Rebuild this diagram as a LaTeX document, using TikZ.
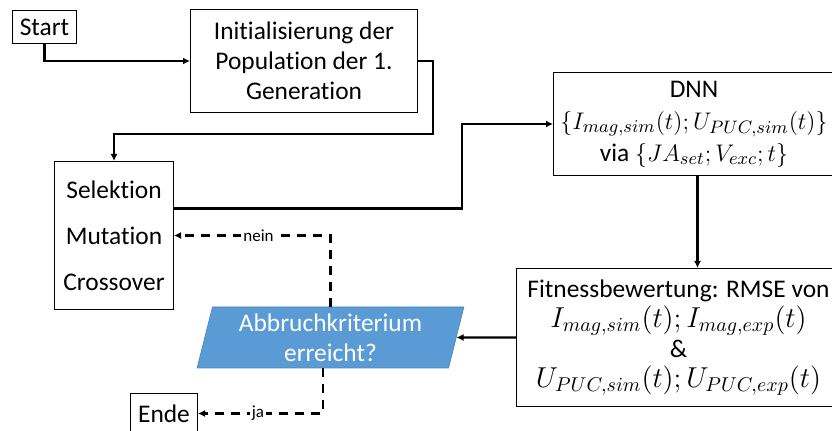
\documentclass[tikz,border=0pt]{standalone}
\usepackage{fontspec}
\setmainfont{Carlito}[Ligatures=NoCommon]
\usetikzlibrary{arrows.meta,positioning,shapes.geometric}
\definecolor{abbrblue}{HTML}{5B9BD5}
\newcommand{\mth}[2][13.8]{{\fontsize{#1}{16}\selectfont$#2$}}

\begin{document}
\begin{tikzpicture}[
    x=0.5pt, y=-0.5pt,
    box/.style={draw, line width=0.5pt, align=center, inner sep=0pt, anchor=north west, font=\fontsize{12.7}{15}\selectfont},
    query/.style={trapezium, trapezium left angle=76, trapezium right angle=104, trapezium stretches=true,
        minimum width=133.5pt, minimum height=30.5pt, inner sep=0pt, fill=abbrblue, draw=abbrblue!85!black,
        line width=0.3pt, text=white, align=center, font=\fontsize{12.7}{15}\selectfont},
    link/.style={-{Latex[length=3.5pt,width=3.5pt]}, line width=1.2pt},
    back/.style={link, dash pattern=on 4.5pt off 3.5pt},
    lbl/.style={fill=white, inner sep=1pt, font=\fontsize{8.5}{9}\selectfont}
]
\useasboundingbox (0,0) rectangle (832,431);
\node[box, minimum width=32pt, minimum height=16.5pt] (start) at (12,10) {Start};
\node[box, minimum width=113.5pt, minimum height=51.5pt] (init) at (190,9) {Initialisierung der\\Population der 1.\\Generation};
\node[box, minimum width=59.5pt, minimum height=74pt] (sel) at (54,161) {Selektion\\[8pt]Mutation\\[8pt]Crossover};
\node[box, minimum width=140.5pt, minimum height=51.5pt] (dnn) at (553,72)
    {DNN\\[1pt]\mth[12.6]{\{I_{mag,sim}(t);U_{PUC,sim}(t)\}}\\[1pt]via \mth[12.6]{\{JA_{set};V_{exc};t\}}};
\node[box, minimum width=162pt, minimum height=69pt] (fit) at (516,268)
    {Fitnessbewertung: RMSE von\\\mth{I_{mag,sim}(t);I_{mag,exp}(t)}\\\&\\\mth{U_{PUC,sim}(t);U_{PUC,exp}(t)}};
\node[query] (abbr) at (330.5,337.5) {Abbruchkriterium\\erreicht?};
\node[box, minimum width=33.5pt, minimum height=20pt] (ende) at (130,393) {Ende};

\coordinate (c1) at (433,134);
\coordinate (c2) at (462,208);

\draw[link] (start.south) |- (init.west);
\draw[link] (init.east) -| (c1) -| (sel.north);
\draw[link] ([yshift=13.5pt]sel.east) -| (c2) |- (dnn.west);
\draw[link] ([xshift=1.75pt]dnn.south) -- ([xshift=1.75pt]dnn.south |- fit.north);
\draw[link] (fit.west) -- (abbr);
\draw[back] (abbr.north) |- node[lbl, pos=0.73]{nein} (sel.east);
\draw[back] (abbr.bottom side) |- node[lbl, pos=0.76]{ja} (ende.east);
\end{tikzpicture}
\end{document}
